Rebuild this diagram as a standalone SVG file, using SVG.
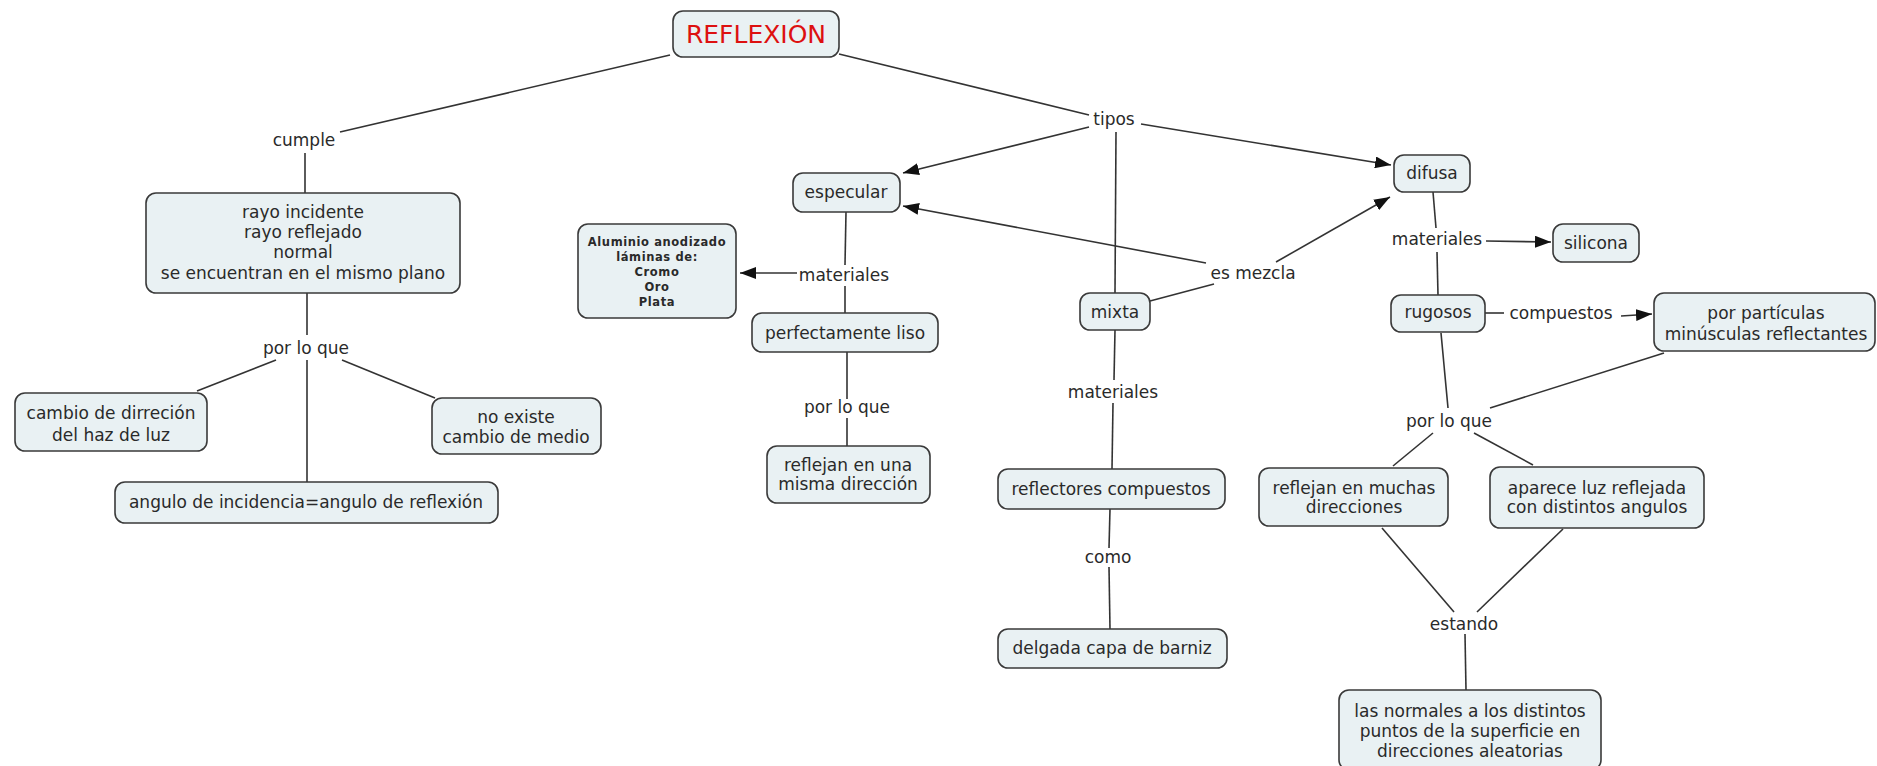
<svg xmlns="http://www.w3.org/2000/svg" width="1877" height="766" viewBox="0 0 1877 766">
<style>
.box{fill:#e9f1f3;stroke:#3a3a3a;stroke-width:1.6}
.t{font-family:"DejaVu Sans","Liberation Sans",sans-serif;font-size:17px;fill:#2a2a2a;text-anchor:middle}
.lbl{font-family:"DejaVu Sans","Liberation Sans",sans-serif;font-size:17px;fill:#2a2a2a;text-anchor:middle}
.sm{font-family:"DejaVu Sans","Liberation Sans",sans-serif;font-size:11.5px;font-weight:bold;letter-spacing:0.6px;fill:#2a2a2a;text-anchor:middle}
.title{font-family:"DejaVu Sans","Liberation Sans",sans-serif;font-size:25px;fill:#dd1010;text-anchor:middle}
.c line{stroke:#333;stroke-width:1.6}
</style>
<defs>
<marker id="ah" viewBox="0 0 16 12" refX="16" refY="6" markerWidth="16" markerHeight="12" markerUnits="userSpaceOnUse" orient="auto">
<path d="M0,0 L16,6 L0,12 z" fill="#111"/>
</marker>
</defs>
<rect width="1877" height="766" fill="#fff"/>
<g id="connectors" class="c">
<line x1="670" y1="55" x2="340" y2="132"/>
<line x1="305" y1="153" x2="305" y2="193"/>
<line x1="307" y1="293" x2="307" y2="335"/>
<line x1="276" y1="360" x2="197" y2="391"/>
<line x1="307" y1="360" x2="307" y2="482"/>
<line x1="342" y1="360" x2="435" y2="398"/>
<line x1="839" y1="54" x2="1089" y2="115"/>
<line x1="1089" y1="127" x2="903" y2="173" marker-end="url(#ah)"/>
<line x1="1141" y1="124" x2="1391" y2="165" marker-end="url(#ah)"/>
<line x1="1116" y1="132" x2="1115" y2="293"/>
<line x1="846" y1="212" x2="845" y2="265"/>
<line x1="797" y1="273" x2="740" y2="273" marker-end="url(#ah)"/>
<line x1="845" y1="286" x2="845" y2="313"/>
<line x1="847" y1="352" x2="847" y2="399"/>
<line x1="847" y1="418" x2="847" y2="447"/>
<line x1="1150" y1="301" x2="1214" y2="284"/>
<line x1="1206" y1="263" x2="903" y2="206" marker-end="url(#ah)"/>
<line x1="1276" y1="262" x2="1390" y2="197" marker-end="url(#ah)"/>
<line x1="1115" y1="330" x2="1114" y2="380"/>
<line x1="1113" y1="403" x2="1112" y2="469"/>
<line x1="1110" y1="509" x2="1109" y2="548"/>
<line x1="1109" y1="567" x2="1110" y2="629"/>
<line x1="1433" y1="192" x2="1436" y2="228"/>
<line x1="1437" y1="252" x2="1438" y2="295"/>
<line x1="1486" y1="241" x2="1551" y2="242" marker-end="url(#ah)"/>
<line x1="1485" y1="313" x2="1504" y2="313"/>
<line x1="1621" y1="316" x2="1652" y2="314" marker-end="url(#ah)"/>
<line x1="1441" y1="333" x2="1448" y2="408"/>
<line x1="1664" y1="353" x2="1490" y2="408"/>
<line x1="1433" y1="433" x2="1393" y2="466"/>
<line x1="1474" y1="433" x2="1533" y2="465"/>
<line x1="1382" y1="528" x2="1454" y2="612"/>
<line x1="1563" y1="529" x2="1477" y2="612"/>
<line x1="1465" y1="634" x2="1466" y2="690"/>
</g>
<g id="reflexion"><rect class="box" x="673" y="11" width="166" height="46" rx="10"/><text class="title" x="756" y="43">REFLEXIÓN</text></g>
<g id="lbl-cumple"><text class="lbl" x="304" y="146">cumple</text></g>
<g id="rayo"><rect class="box" x="146" y="193" width="314" height="100" rx="10"/><text class="t" x="303" y="218">rayo incidente</text><text class="t" x="303" y="238">rayo reflejado</text><text class="t" x="303" y="258">normal</text><text class="t" x="303" y="279">se encuentran en el mismo plano</text></g>
<g id="lbl-porloque1"><text class="lbl" x="306" y="354">por lo que</text></g>
<g id="cambio"><rect class="box" x="15" y="393" width="192" height="58" rx="10"/><text class="t" x="111" y="419">cambio de dirreción</text><text class="t" x="111" y="441">del haz de luz</text></g>
<g id="noexiste"><rect class="box" x="432" y="398" width="169" height="56" rx="10"/><text class="t" x="516" y="423">no existe</text><text class="t" x="516" y="443">cambio de medio</text></g>
<g id="angulo"><rect class="box" x="115" y="482" width="383" height="41" rx="10"/><text class="t" x="306" y="508">angulo de incidencia=angulo de reflexión</text></g>
<g id="lbl-tipos"><text class="lbl" x="1114" y="125">tipos</text></g>
<g id="especular"><rect class="box" x="793" y="173" width="107" height="39" rx="10"/><text class="t" x="846" y="198">especular</text></g>
<g id="lbl-materiales1"><text class="lbl" x="844" y="281">materiales</text></g>
<g id="aluminio"><rect class="box" x="578" y="224" width="158" height="94" rx="10"/><text class="sm" x="657" y="246">Aluminio anodizado</text><text class="sm" x="657" y="261">láminas de:</text><text class="sm" x="657" y="276">Cromo</text><text class="sm" x="657" y="291">Oro</text><text class="sm" x="657" y="306">Plata</text></g>
<g id="perfectamente"><rect class="box" x="752" y="313" width="186" height="39" rx="10"/><text class="t" x="845" y="339">perfectamente liso</text></g>
<g id="lbl-porloque2"><text class="lbl" x="847" y="413">por lo que</text></g>
<g id="reflejanuna"><rect class="box" x="767" y="446" width="163" height="57" rx="10"/><text class="t" x="848" y="471">reflejan en una</text><text class="t" x="848" y="490">misma dirección</text></g>
<g id="lbl-esmezcla"><text class="lbl" x="1253" y="279">es mezcla</text></g>
<g id="mixta"><rect class="box" x="1080" y="293" width="70" height="37" rx="10"/><text class="t" x="1115" y="318">mixta</text></g>
<g id="lbl-materiales2"><text class="lbl" x="1113" y="398">materiales</text></g>
<g id="reflectores"><rect class="box" x="998" y="469" width="227" height="40" rx="10"/><text class="t" x="1111" y="495">reflectores compuestos</text></g>
<g id="lbl-como"><text class="lbl" x="1108" y="563">como</text></g>
<g id="delgada"><rect class="box" x="998" y="629" width="229" height="39" rx="10"/><text class="t" x="1112" y="654">delgada capa de barniz</text></g>
<g id="difusa"><rect class="box" x="1394" y="155" width="76" height="37" rx="10"/><text class="t" x="1432" y="179">difusa</text></g>
<g id="lbl-materiales3"><text class="lbl" x="1437" y="245">materiales</text></g>
<g id="silicona"><rect class="box" x="1553" y="224" width="86" height="38" rx="10"/><text class="t" x="1596" y="249">silicona</text></g>
<g id="rugosos"><rect class="box" x="1391" y="295" width="94" height="37" rx="10"/><text class="t" x="1438" y="318">rugosos</text></g>
<g id="lbl-compuestos"><text class="lbl" x="1561" y="319">compuestos</text></g>
<g id="particulas"><rect class="box" x="1654" y="293" width="221" height="58" rx="10"/><text class="t" x="1766" y="319">por partículas</text><text class="t" x="1766" y="340">minúsculas reflectantes</text></g>
<g id="lbl-porloque3"><text class="lbl" x="1449" y="427">por lo que</text></g>
<g id="muchas"><rect class="box" x="1259" y="468" width="189" height="58" rx="10"/><text class="t" x="1354" y="494">reflejan en muchas</text><text class="t" x="1354" y="513">direcciones</text></g>
<g id="aparece"><rect class="box" x="1490" y="467" width="214" height="61" rx="10"/><text class="t" x="1597" y="494">aparece luz reflejada</text><text class="t" x="1597" y="513">con distintos angulos</text></g>
<g id="lbl-estando"><text class="lbl" x="1464" y="630">estando</text></g>
<g id="normales"><rect class="box" x="1339" y="690" width="262" height="80" rx="10"/><text class="t" x="1470" y="717">las normales a los distintos</text><text class="t" x="1470" y="737">puntos de la superficie en</text><text class="t" x="1470" y="757">direcciones aleatorias</text></g>
</svg>
